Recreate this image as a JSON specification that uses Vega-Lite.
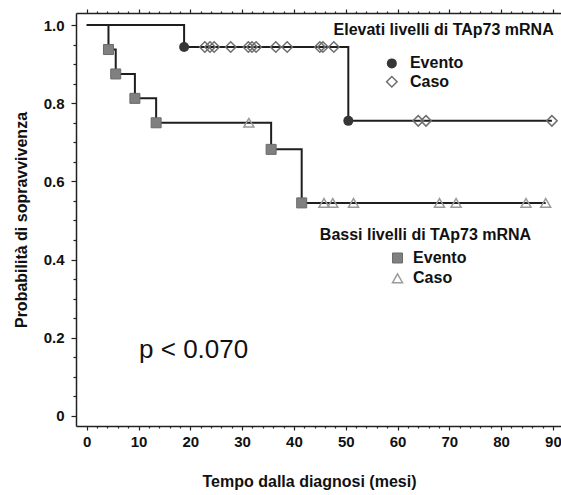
{
  "$schema": "https://vega.github.io/schema/vega-lite/v6.json",
  "width": 485,
  "height": 413,
  "autosize": "none",
  "padding": {"left": 76, "top": 13, "right": 0, "bottom": 69},
  "background": "white",
  "config": {
    "view": {"stroke": null},
    "font": "Liberation Sans",
    "axis": {"grid": false, "domainColor": "#222222", "tickColor": "#222222", "labelColor": "#111111", "titleColor": "#111111", "domainWidth": 1.5, "tickWidth": 1.2}
  },
  "resolve": {"axis": {"x": "independent", "y": "independent"}},
  "layer": [
    {
      "data": {"values": [
        {"grp": "alto", "t": 0, "s": 1},
        {"grp": "alto", "t": 18.8, "s": 0.944},
        {"grp": "alto", "t": 50.5, "s": 0.755},
        {"grp": "alto", "t": 89.8, "s": 0.755},
        {"grp": "basso", "t": 0, "s": 1},
        {"grp": "basso", "t": 4.2, "s": 0.9375},
        {"grp": "basso", "t": 5.6, "s": 0.875},
        {"grp": "basso", "t": 9.3, "s": 0.8125},
        {"grp": "basso", "t": 13.4, "s": 0.75},
        {"grp": "basso", "t": 35.6, "s": 0.682},
        {"grp": "basso", "t": 41.5, "s": 0.545},
        {"grp": "basso", "t": 88.6, "s": 0.545}
      ]},
      "mark": {"type": "line", "interpolate": "step-after", "color": "#1e1e1e", "strokeWidth": 2},
      "encoding": {
        "x": {"field": "t", "type": "quantitative",
          "scale": {"domain": [-2.07, 91.56], "nice": false, "zero": false},
          "axis": {"orient": "bottom", "values": [0, 10, 20, 30, 40, 50, 60, 70, 80, 90], "tickSize": 4, "labelFontSize": 15, "labelFontWeight": "bold", "labelPadding": 4, "labelFlush": false, "title": "Tempo dalla diagnosi (mesi)", "titleFontSize": 16, "titleFontWeight": "bold", "titlePadding": 24, "titleX": 233}},
        "y": {"field": "s", "type": "quantitative",
          "scale": {"domain": [-0.026, 1.031], "nice": false, "zero": false},
          "axis": {"orient": "left", "values": [0, 0.2, 0.4, 0.6, 0.8, 1.0], "tickSize": 5, "labelFontSize": 15, "labelFontWeight": "bold", "labelPadding": 7, "labelExpr": "datum.value == 0 ? '0' : format(datum.value, '.1f')", "title": "Probabilità di sopravvivenza", "titleFontSize": 16, "titleFontWeight": "bold", "titlePadding": 14}},
        "detail": {"field": "grp", "type": "nominal"}
      }
    },
    {
      "data": {"values": [
        {"t": 18.8, "s": 0.944},
        {"t": 50.5, "s": 0.755},
        {"t": 58.9, "s": 0.902}
      ]},
      "mark": {"type": "point", "shape": "circle", "filled": true, "color": "#363636", "size": 100, "opacity": 1},
      "encoding": {
        "x": {"field": "t", "type": "quantitative",
          "scale": {"domain": [-2.07, 91.56], "nice": false, "zero": false},
          "axis": {"orient": "bottom", "values": [2, 4, 6, 8, 12, 14, 16, 18, 22, 24, 26, 28, 32, 34, 36, 38, 42, 44, 46, 48, 52, 54, 56, 58, 62, 64, 66, 68, 72, 74, 76, 78, 82, 84, 86, 88], "tickSize": 2, "labels": false, "domain": false, "title": null}},
        "y": {"field": "s", "type": "quantitative",
          "scale": {"domain": [-0.026, 1.031], "nice": false, "zero": false},
          "axis": {"orient": "left", "values": [0.05, 0.1, 0.15, 0.25, 0.3, 0.35, 0.45, 0.5, 0.55, 0.65, 0.7, 0.75, 0.85, 0.9, 0.95], "tickSize": 3, "labels": false, "domain": false, "title": null}}
      }
    },
    {
      "data": {"values": [
        {"t": 4.2, "s": 0.9375},
        {"t": 5.6, "s": 0.875},
        {"t": 9.3, "s": 0.8125},
        {"t": 13.4, "s": 0.75},
        {"t": 35.6, "s": 0.682},
        {"t": 41.5, "s": 0.545},
        {"t": 60.0, "s": 0.404}
      ]},
      "mark": {"type": "point", "shape": "square", "filled": true, "color": "#808080", "stroke": "#6a6a6a", "strokeWidth": 1, "size": 100, "opacity": 1},
      "encoding": {
        "x": {"field": "t", "type": "quantitative",
          "scale": {"domain": [-2.07, 91.56], "nice": false, "zero": false},
          "axis": {"orient": "top", "values": [0, 10, 20, 30, 40, 50, 60, 70, 80, 90], "tickSize": 4, "labels": false, "title": null}},
        "y": {"field": "s", "type": "quantitative",
          "scale": {"domain": [-0.026, 1.031], "nice": false, "zero": false}, "axis": null}
      }
    },
    {
      "data": {"values": [
        {"t": 22.8, "s": 0.944},
        {"t": 23.8, "s": 0.944},
        {"t": 24.6, "s": 0.944},
        {"t": 27.8, "s": 0.944},
        {"t": 31.2, "s": 0.944},
        {"t": 31.9, "s": 0.944},
        {"t": 32.7, "s": 0.944},
        {"t": 36.5, "s": 0.944},
        {"t": 38.7, "s": 0.944},
        {"t": 45.0, "s": 0.944},
        {"t": 45.6, "s": 0.944},
        {"t": 47.7, "s": 0.944},
        {"t": 64.0, "s": 0.755},
        {"t": 65.5, "s": 0.755},
        {"t": 89.8, "s": 0.755},
        {"t": 58.9, "s": 0.855}
      ]},
      "mark": {"type": "point", "shape": "diamond", "filled": false, "color": "#6e6e6e", "strokeWidth": 1.5, "size": 110, "opacity": 1},
      "encoding": {
        "x": {"field": "t", "type": "quantitative",
          "scale": {"domain": [-2.07, 91.56], "nice": false, "zero": false},
          "axis": {"orient": "top", "values": [2, 4, 6, 8, 12, 14, 16, 18, 22, 24, 26, 28, 32, 34, 36, 38, 42, 44, 46, 48, 52, 54, 56, 58, 62, 64, 66, 68, 72, 74, 76, 78, 82, 84, 86, 88], "tickSize": 2, "labels": false, "domain": false, "title": null}},
        "y": {"field": "s", "type": "quantitative",
          "scale": {"domain": [-0.026, 1.031], "nice": false, "zero": false}, "axis": null}
      }
    },
    {
      "data": {"values": [
        {"t": 31.3, "s": 0.75},
        {"t": 45.8, "s": 0.545},
        {"t": 47.5, "s": 0.545},
        {"t": 51.5, "s": 0.545},
        {"t": 68.1, "s": 0.545},
        {"t": 71.3, "s": 0.545},
        {"t": 84.8, "s": 0.545},
        {"t": 88.6, "s": 0.545},
        {"t": 60.0, "s": 0.352}
      ]},
      "mark": {"type": "point", "shape": "triangle-up", "filled": false, "color": "#9a9a9a", "strokeWidth": 1.5, "size": 100, "opacity": 1},
      "encoding": {
        "x": {"field": "t", "type": "quantitative",
          "scale": {"domain": [-2.07, 91.56], "nice": false, "zero": false}, "axis": null},
        "y": {"field": "s", "type": "quantitative",
          "scale": {"domain": [-0.026, 1.031], "nice": false, "zero": false}, "axis": null}
      }
    },
    {
      "data": {"values": [
        {"t": 68.9, "s": 0.987, "label": "Elevati livelli di TAp73 mRNA"},
        {"t": 65.4, "s": 0.4625, "label": "Bassi livelli di TAp73 mRNA"}
      ]},
      "mark": {"type": "text", "align": "center", "baseline": "middle", "fontSize": 16, "fontWeight": "bold", "color": "#111111"},
      "encoding": {
        "x": {"field": "t", "type": "quantitative", "scale": {"domain": [-2.07, 91.56], "nice": false, "zero": false}, "axis": null},
        "y": {"field": "s", "type": "quantitative", "scale": {"domain": [-0.026, 1.031], "nice": false, "zero": false}, "axis": null},
        "text": {"field": "label", "type": "nominal"}
      }
    },
    {
      "data": {"values": [
        {"t": 62.4, "s": 0.902, "label": "Evento"},
        {"t": 62.4, "s": 0.855, "label": "Caso"},
        {"t": 63.0, "s": 0.404, "label": "Evento"},
        {"t": 63.0, "s": 0.352, "label": "Caso"}
      ]},
      "mark": {"type": "text", "align": "left", "baseline": "middle", "fontSize": 16, "fontWeight": "bold", "color": "#111111"},
      "encoding": {
        "x": {"field": "t", "type": "quantitative", "scale": {"domain": [-2.07, 91.56], "nice": false, "zero": false}, "axis": null},
        "y": {"field": "s", "type": "quantitative", "scale": {"domain": [-0.026, 1.031], "nice": false, "zero": false}, "axis": null},
        "text": {"field": "label", "type": "nominal"}
      }
    },
    {
      "data": {"values": [
        {"t": 10.1, "s": 0.168, "label": "p < 0.070"}
      ]},
      "mark": {"type": "text", "align": "left", "baseline": "middle", "fontSize": 26, "fontWeight": "normal", "color": "#111111"},
      "encoding": {
        "x": {"field": "t", "type": "quantitative", "scale": {"domain": [-2.07, 91.56], "nice": false, "zero": false}, "axis": null},
        "y": {"field": "s", "type": "quantitative", "scale": {"domain": [-0.026, 1.031], "nice": false, "zero": false}, "axis": null},
        "text": {"field": "label", "type": "nominal"}
      }
    }
  ]
}
